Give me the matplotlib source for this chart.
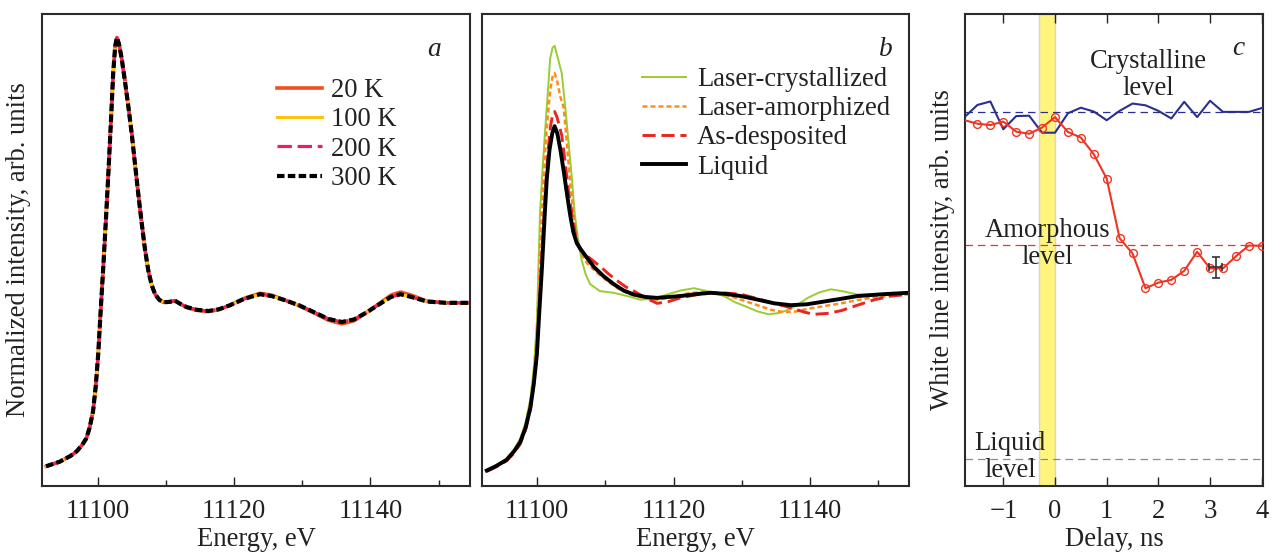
import matplotlib
matplotlib.use('Agg')
import matplotlib.pyplot as plt

FS = 19.2
plt.rcParams['font.family'] = ['Liberation Serif', 'DejaVu Serif']
plt.rcParams['font.size'] = FS
plt.rcParams['text.color'] = '#222222'
plt.rcParams['axes.labelcolor'] = '#222222'
plt.rcParams['xtick.color'] = '#222222'

# ---- panel a: temperature series ----
e_a = [11092.4, 11094.4, 11096.0, 11096.9, 11097.7, 11098.3, 11098.8, 11099.3, 11099.7,
       11100.05, 11100.4, 11100.8, 11101.2, 11101.5, 11101.9, 11102.25, 11102.55, 11102.8,
       11103.1, 11103.5, 11104.0, 11104.5, 11105.0, 11105.4, 11105.9, 11106.4, 11106.9,
       11107.4, 11107.9, 11108.4, 11109.0, 11109.6, 11110.5, 11111.3, 11112.2, 11113.0,
       11114.5, 11116.2, 11117.8, 11119.4, 11121.5, 11123.8, 11125.5, 11127.3, 11129.5,
       11131.7, 11133.8, 11135.8, 11137.6, 11139.5, 11141.5, 11143.0, 11144.4, 11146.0,
       11148.3, 11151.0, 11154.6]
i_300K = [0.108, 0.133, 0.165, 0.19, 0.225, 0.26, 0.32, 0.41, 0.55,
          0.72, 0.95, 1.20, 1.47, 1.68, 1.98, 2.26, 2.41, 2.455,
          2.42, 2.34, 2.21, 2.07, 1.92, 1.78, 1.61, 1.45, 1.30,
          1.18, 1.10, 1.05, 1.02, 1.006, 1.008, 1.015, 0.995, 0.98,
          0.965, 0.958, 0.968, 0.99, 1.025, 1.050, 1.04, 1.019, 0.99,
          0.952, 0.915, 0.898, 0.912, 0.952, 1.00, 1.035, 1.050, 1.035,
          1.01, 1.003, 1.003]
i_20K = [0.108, 0.133, 0.165, 0.19, 0.225, 0.26, 0.32, 0.41, 0.55,
         0.72, 0.95, 1.20, 1.47, 1.68, 1.98, 2.26, 2.41, 2.455,
         2.42, 2.34, 2.21, 2.07, 1.92, 1.78, 1.61, 1.45, 1.30,
         1.18, 1.10, 1.05, 1.02, 1.006, 1.008, 1.015, 0.995, 0.978,
         0.962, 0.955, 0.966, 0.99, 1.028, 1.055, 1.045, 1.02, 0.988,
         0.948, 0.908, 0.888, 0.905, 0.952, 1.005, 1.045, 1.062, 1.045,
         1.012, 1.003, 1.003]
i_100K = list(i_300K)
i_200K = list(i_300K)
temps = ['20 K', '100 K', '200 K', '300 K']

# ---- panel b: phase series ----
e_liq = [11092.6, 11094.0, 11095.5, 11096.6, 11097.5, 11098.3, 11099.0, 11099.5, 11099.95,
         11100.3, 11100.7, 11101.05, 11101.4, 11101.8, 11102.2, 11102.55, 11102.95, 11103.4,
         11103.9, 11104.4, 11104.85, 11105.3, 11105.8, 11106.3, 11107.3, 11108.3, 11109.7,
         11111.2, 11112.7, 11114.2, 11115.9, 11117.6, 11119.3, 11121.0, 11123.2, 11125.4,
         11127.6, 11129.9, 11132.4, 11134.8, 11137.2, 11139.6, 11142.1, 11144.6, 11147.0,
         11150.7, 11154.6]
i_liq = [0.085, 0.11, 0.143, 0.19, 0.24, 0.32, 0.43, 0.56, 0.72,
         0.95, 1.20, 1.45, 1.68, 1.84, 1.93, 1.97, 1.93, 1.84,
         1.72, 1.59, 1.48, 1.39, 1.33, 1.30, 1.25, 1.20, 1.15,
         1.106, 1.07, 1.048, 1.035, 1.03, 1.035, 1.04, 1.05, 1.058,
         1.052, 1.04, 1.02, 1.0, 0.99, 0.995, 1.01, 1.025, 1.04,
         1.05, 1.058]
e_cry = [11092.6, 11094.0, 11095.5, 11096.6, 11097.5, 11098.3, 11099.0, 11099.5, 11099.95,
         11100.4, 11100.8, 11101.2, 11101.6, 11101.9, 11102.25, 11102.55, 11102.9, 11103.6,
         11104.1, 11104.6, 11105.1, 11105.5, 11106.0, 11106.5, 11107.1, 11107.75, 11109.2,
         11111.2, 11113.2, 11115.1, 11117.0, 11119.0, 11121.0, 11123.0, 11125.2, 11127.4,
         11129.1, 11130.8, 11132.4, 11134.0, 11135.6, 11137.2, 11138.5, 11139.7, 11141.4,
         11143.1, 11145.0, 11147.0, 11150.7, 11154.6]
i_cry = [0.085, 0.115, 0.15, 0.20, 0.26, 0.35, 0.48, 0.65, 0.90,
         1.49, 1.75, 1.97, 2.18, 2.34, 2.40, 2.41, 2.36, 2.26,
         2.08, 1.88, 1.68, 1.49, 1.35, 1.24, 1.16, 1.106, 1.067,
         1.058, 1.04, 1.02, 1.025, 1.048, 1.07, 1.083, 1.065, 1.04,
         1.005, 0.98, 0.955, 0.94, 0.948, 0.97, 1.0, 1.03, 1.06,
         1.077, 1.065, 1.048, 1.05, 1.058]
e_amo = [11092.6, 11094.0, 11095.5, 11096.6, 11097.5, 11098.3, 11099.0, 11099.5, 11099.95,
         11100.4, 11100.8, 11101.2, 11101.6, 11101.95, 11102.3, 11102.55, 11102.9, 11103.4,
         11103.9, 11104.3, 11104.8, 11105.3, 11105.8, 11106.5, 11107.3, 11108.7, 11110.2,
         11111.9, 11113.7, 11115.6, 11117.6, 11120.0, 11122.5, 11125.0, 11127.4, 11129.9,
         11132.3, 11134.3, 11136.2, 11137.9, 11139.7, 11142.1, 11144.6, 11147.0, 11149.5,
         11152.0, 11154.6]
i_amo = [0.085, 0.112, 0.147, 0.195, 0.25, 0.335, 0.46, 0.61, 0.82,
         1.30, 1.60, 1.86, 2.05, 2.18, 2.25, 2.26, 2.22, 2.13,
         2.07, 1.90, 1.68, 1.50, 1.34, 1.27, 1.22, 1.17, 1.125,
         1.08, 1.048, 1.03, 1.02, 1.035, 1.058, 1.06, 1.05, 1.02,
         0.99, 0.965, 0.952, 0.955, 0.97, 0.985, 1.0, 1.018, 1.033,
         1.042, 1.05]
e_dep = [11092.6, 11094.0, 11095.5, 11096.6, 11097.5, 11098.3, 11099.0, 11099.5, 11099.95,
         11100.4, 11100.8, 11101.2, 11101.6, 11101.95, 11102.3, 11102.55, 11102.9, 11103.6,
         11104.1, 11104.6, 11105.2, 11105.8, 11106.5, 11107.3, 11108.3, 11109.3, 11110.5,
         11111.7, 11113.0, 11114.2, 11115.9, 11117.6, 11119.3, 11121.0, 11123.5, 11125.9,
         11127.9, 11129.9, 11131.9, 11133.8, 11135.8, 11137.7, 11139.2, 11140.6, 11142.6,
         11144.6, 11147.0, 11149.5, 11152.0, 11154.6]
i_dep = [0.08, 0.105, 0.138, 0.18, 0.23, 0.31, 0.42, 0.56, 0.74,
         1.05, 1.35, 1.62, 1.84, 1.97, 2.04, 2.05, 2.02, 1.92,
         1.77, 1.61, 1.46, 1.34, 1.29, 1.26, 1.23, 1.20, 1.16,
         1.125, 1.09, 1.067, 1.03, 1.0, 1.01, 1.03, 1.048, 1.058,
         1.056, 1.05, 1.03, 1.01, 0.99, 0.97, 0.952, 0.94, 0.945,
         0.96, 0.99, 1.02, 1.04, 1.05]
phases = ['Laser-crystallized', 'Laser-amorphized', 'As-desposited', 'Liquid']

# ---- panel c: time-resolved white line ----
delay = [-1.75, -1.5, -1.25, -1.0, -0.75, -0.5, -0.25, 0.0, 0.25, 0.5, 0.75, 1.0,
         1.25, 1.5, 1.75, 2.0, 2.25, 2.5, 2.75, 3.0, 3.25, 3.5, 3.75, 4.0]
wl_cryst = [0.985, 1.02, 1.03, 0.95, 0.988, 0.989, 0.94, 0.94, 0.996, 1.012, 1.001, 0.976,
            1.003, 1.024, 1.019, 1.003, 0.981, 1.029, 0.985, 1.032, 1.0, 1.0, 1.0, 1.011]
wl_pump = [0.976, 0.966, 0.962, 0.972, 0.943, 0.937, 0.955, 0.985, 0.942, 0.926, 0.878, 0.808,
           0.636, 0.592, 0.492, 0.508, 0.516, 0.542, 0.597, 0.549, 0.549, 0.584, 0.615, 0.614]
level_cryst, level_amo, level_liq = 1.0, 0.617, 0.0
err_x, err_y, err_dx, err_dy = 3.11, 0.552, 0.13, 0.031
pulse = (-0.31, 0.0)

fig = plt.figure(figsize=(12.74, 5.54), dpi=100)
ax_a = fig.add_axes([0.0332, 0.1227, 0.3357, 0.852])
ax_b = fig.add_axes([0.3781, 0.1227, 0.3356, 0.852])
ax_c = fig.add_axes([0.7575, 0.1227, 0.2337, 0.852])

# panel a
ax_a.plot(e_a, i_20K, color='#f0501e', lw=2.6, label=temps[0])
ax_a.plot(e_a, i_100K, color='#ffc20e', lw=2.2, label=temps[1])
ax_a.plot(e_a, i_200K, color='#ec1e5c', lw=2.3, ls=(0, (4.5, 1.8)), label=temps[2])
ax_a.plot(e_a, i_300K, color='black', lw=3.0, ls=(0, (1.8, 0.8)), label=temps[3])

# panel b
ax_b.plot(e_cry, i_cry, color='#9acd32', lw=1.4, label=phases[0])
ax_b.plot(e_amo, i_amo, color='#ff8c1a', lw=1.8, ls=(0, (2, 1.2)), label=phases[1])
ax_b.plot(e_dep, i_dep, color='#e8251f', lw=2.1, ls=(0, (4.5, 2)), label=phases[2])
ax_b.plot(e_liq, i_liq, color='black', lw=2.8, label=phases[3])

for ax, lab in ((ax_a, 'a'), (ax_b, 'b')):
    ax.set_xlim(11091.85, 11154.6)
    ax.set_ylim(0, 2.584)
    ax.set_xticks([11100, 11120, 11140])
    ax.set_xticks([11110, 11130, 11150], minor=True)
    ax.set_xticklabels(['11100', '11120', '11140'])
    ax.set_yticks([])
    ax.tick_params(axis='x', which='major', direction='in', length=6.5, width=1.0,
                   pad=9, labelsize=FS)
    ax.tick_params(axis='x', which='minor', direction='in', length=4, width=1.0)
    ax.set_xlabel('Energy, eV', labelpad=2.5)
    ax.text(0.917 if lab == 'a' else 0.9455, 0.925, lab, transform=ax.transAxes,
            ha='center', va='center', style='italic', fontsize=FS + 0.5)

ax_a.set_ylabel('Normalized intensity, arb. units', labelpad=8)
ax_a.legend(loc='upper left', bbox_to_anchor=(0.549, 0.864), frameon=False,
            handlelength=1.69, handletextpad=0.34, labelspacing=0.16,
            borderaxespad=0, borderpad=0, fontsize=FS)
ax_b.legend(loc='upper left', bbox_to_anchor=(0.375, 0.888), frameon=False,
            handlelength=1.65, handletextpad=0.41, labelspacing=0.16,
            borderaxespad=0, borderpad=0, fontsize=FS)

# panel c
ax_c.axvspan(pulse[0], pulse[1], facecolor='#fff57d', edgecolor='#d5d5d5', lw=1.0, zorder=0)
ax_c.axhline(level_cryst, color='#2b2f8f', lw=0.9, ls=(0, (6, 4)), zorder=1)
ax_c.axhline(level_amo, color='#ee3524', lw=0.9, ls=(0, (6, 4)), zorder=1)
ax_c.axhline(level_liq, color='#8c8c8c', lw=0.9, ls=(0, (6, 4)), zorder=1)
ax_c.plot(delay, wl_cryst, color='#2b2f8f', lw=1.5, zorder=3)
ax_c.plot(delay, wl_pump, color='#ee3524', lw=1.5, marker='o', ms=5.6, mfc='none',
          mec='#ee3524', mew=1.0, markevery=slice(1, None), zorder=3)
ax_c.errorbar([err_x], [err_y], xerr=[err_dx], yerr=[err_dy], fmt='none',
              ecolor='#333333', elinewidth=1.2, capsize=3, capthick=1.2, zorder=4)

ax_c.text(1.8, 1.105, 'Crystalline\nlevel', ha='center', va='center', linespacing=1.1)
ax_c.text(-0.15, 0.62, 'Amorphous\nlevel', ha='center', va='center', linespacing=1.1)
ax_c.text(-0.87, 0.006, 'Liquid\nlevel', ha='center', va='center', linespacing=1.1)
ax_c.text(0.916, 0.927, 'c', transform=ax_c.transAxes, ha='center', va='center',
          style='italic', fontsize=FS + 0.5)

ax_c.set_xlim(-1.74, 4.02)
ax_c.set_ylim(-0.078, 1.282)
ax_c.set_xticks([-1, 0, 1, 2, 3, 4])
ax_c.set_yticks([])
ax_c.tick_params(axis='x', direction='in', length=6.5, width=1.0, pad=9,
                 labelsize=FS, top=True)
ax_c.set_xlabel('Delay, ns', labelpad=2.5)
ax_c.set_ylabel('White line intensity, arb. units', labelpad=7)

for ax in (ax_a, ax_b, ax_c):
    for sp in ax.spines.values():
        sp.set_linewidth(1.5)
        sp.set_color('#2b2b2b')

fig.savefig('out.png', dpi=100)
